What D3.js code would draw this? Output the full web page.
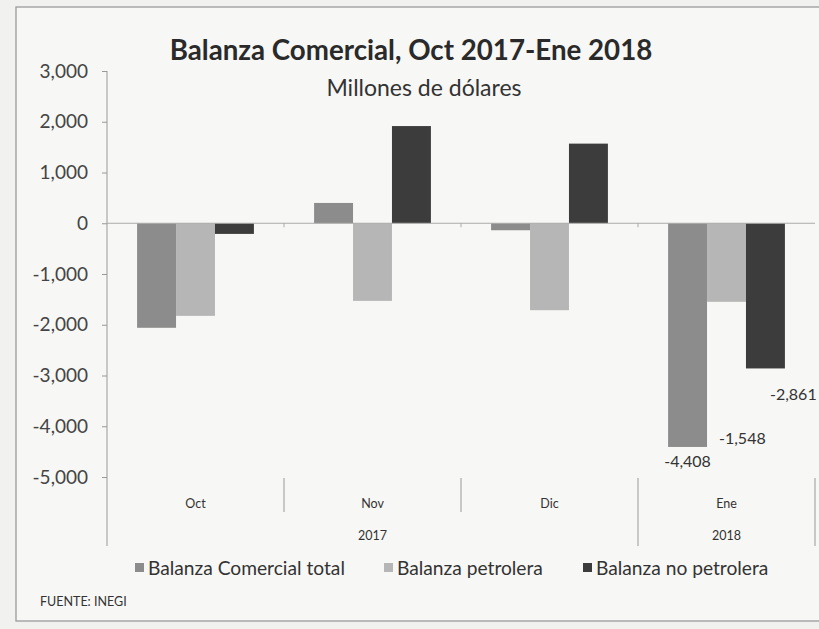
<!DOCTYPE html>
<html>
<head>
<meta charset="utf-8">
<script src="https://cdn.jsdelivr.net/npm/d3@7"></script>
<style>
  html, body { margin: 0; padding: 0; background: #f3f3f1; }
  svg { display: block; }
  text { font-family: Lato, "Open Sans", sans-serif; }
</style>
</head>
<body>
<svg id="chart" width="819" height="629"></svg>
<script>
const months = ["Oct", "Nov", "Dic", "Ene"];
const years = [{label: "2017", from: "Oct", to: "Dic"}, {label: "2018", from: "Ene", to: "Ene"}];
const seriesNames = ["Balanza Comercial total", "Balanza petrolera", "Balanza no petrolera"];
const totalValues = [-2060, 400, -138, -4408];
const petroleraValues = [-1825, -1530, -1713, -1548];
const noPetroleraValues = [-210, 1915, 1569, -2861];
const seriesColors = ["#8c8c8c", "#b6b6b6", "#3c3c3c"];
const yTicks = [3000, 2000, 1000, 0, -1000, -2000, -3000, -4000, -5000];
const labeledMonth = "Ene";

const allValues = [totalValues, petroleraValues, noPetroleraValues];
const data = months.map((m, i) => ({
  month: m,
  values: seriesNames.map((s, j) => ({series: s, value: allValues[j][i]}))
}));

const locale = d3.formatLocale({decimal: ".", thousands: ",", grouping: [3], currency: ["$", ""], minus: "-"});
const fmt = locale.format(",");

const svg = d3.select("#chart");

// frame
svg.append("rect").attr("x", 0).attr("y", 0).attr("width", 819).attr("height", 629).attr("fill", "#f1f1ef");
svg.append("rect").attr("x", 16).attr("y", 7).attr("width", 820).attr("height", 614)
  .attr("fill", "#f7f7f5").attr("stroke", "#9a9a9a").attr("stroke-width", 1.3);

const y = d3.scaleLinear().domain([-5000, 3000]).range([477, 71]);
const x0 = d3.scaleBand().domain(months).range([107, 815]).padding(0);
const x1 = d3.scaleBand().domain(seriesNames)
  .range([x0.bandwidth() * 0.17, x0.bandwidth() * 0.83]).padding(0);
const color = d3.scaleOrdinal().domain(seriesNames).range(seriesColors);

// title
svg.append("text").attr("x", 411).attr("y", 60).attr("text-anchor", "middle")
  .attr("font-size", 27.7).attr("font-weight", "bold").attr("fill", "#2a2a2a")
  .text("Balanza Comercial, Oct 2017-Ene 2018");
svg.append("text").attr("x", 424).attr("y", 96).attr("text-anchor", "middle")
  .attr("font-size", 23).attr("fill", "#333")
  .text("Millones de dólares");

// y axis
const yAxis = d3.axisLeft(y).tickValues(yTicks).tickFormat(fmt).tickSize(5).tickPadding(14);
const gy = svg.append("g").attr("transform", "translate(107,0)").call(yAxis);
gy.select(".domain").remove();
gy.selectAll(".tick line").attr("stroke", "#999");
gy.selectAll(".tick text").attr("font-size", 19).attr("fill", "#444")
  .attr("font-family", "Lato, 'Open Sans', sans-serif");
svg.append("line").attr("x1", 107).attr("x2", 107).attr("y1", y(3000)).attr("y2", 546)
  .attr("stroke", "#999").attr("stroke-width", 1);

// bars
const groups = svg.append("g").selectAll("g").data(data).join("g")
  .attr("transform", d => `translate(${x0(d.month)},0)`);
groups.selectAll("rect").data(d => d.values).join("rect")
  .attr("x", d => x1(d.series))
  .attr("width", x1.bandwidth())
  .attr("y", d => y(Math.max(0, d.value)))
  .attr("height", d => Math.abs(y(d.value) - y(0)))
  .attr("fill", d => color(d.series));

// zero line and its ticks
svg.append("line").attr("x1", 107).attr("x2", 815).attr("y1", y(0)).attr("y2", y(0))
  .attr("stroke", "#aaa").attr("stroke-width", 1);
svg.append("g").selectAll("line").data(months.slice(1)).join("line")
  .attr("x1", d => x0(d)).attr("x2", d => x0(d))
  .attr("y1", y(0)).attr("y2", y(0) + 4).attr("stroke", "#aaa");

// category axis (two levels)
svg.append("g").selectAll("text").data(months).join("text")
  .attr("x", d => x0(d) + x0.bandwidth() / 2).attr("y", 508)
  .attr("text-anchor", "middle").attr("font-size", 12.5).attr("fill", "#333")
  .text(d => d);
svg.append("g").selectAll("line").data(months.slice(1)).join("line")
  .attr("x1", d => x0(d)).attr("x2", d => x0(d))
  .attr("y1", 478).attr("y2", d => years.some(yr => yr.from === d) ? 546 : 512)
  .attr("stroke", "#999");
svg.append("line").attr("x1", 815).attr("x2", 815).attr("y1", 478).attr("y2", 546).attr("stroke", "#999");
svg.append("g").selectAll("text").data(years).join("text")
  .attr("x", d => (x0(d.from) + x0(d.to) + x0.bandwidth()) / 2).attr("y", 540)
  .attr("text-anchor", "middle").attr("font-size", 12.5).attr("fill", "#333")
  .text(d => d.label);

// data labels for Ene (placed as in the original Excel layout)
const ene = data.find(d => d.month === labeledMonth);
const totalBottom = y(ene.values[0].value);
const labelPos = [
  d => ({x: x0(labeledMonth) + x1(d.series) + x1.bandwidth() / 2, y: totalBottom + 20, anchor: "middle"}),
  d => ({x: x0(labeledMonth) + x1(d.series) + 12, y: totalBottom - 3, anchor: "start"}),
  d => ({x: x0(labeledMonth) + x1(d.series) + 24, y: y(d.value) + 32, anchor: "start"})
];
svg.append("g").selectAll("text").data(ene.values).join("text")
  .attr("x", (d, i) => labelPos[i](d).x)
  .attr("y", (d, i) => labelPos[i](d).y)
  .attr("text-anchor", (d, i) => labelPos[i](d).anchor)
  .attr("font-size", 16).attr("fill", "#333")
  .text(d => fmt(d.value));

// legend
const legendX = [135, 384, 583];
const legend = svg.append("g").selectAll("g").data(seriesNames).join("g")
  .attr("transform", (d, i) => `translate(${legendX[i]},568)`);
legend.append("rect").attr("x", 0).attr("y", -5).attr("width", 9).attr("height", 9)
  .attr("fill", d => color(d));
legend.append("text").attr("x", 13).attr("y", 6.5).attr("font-size", 19.2).attr("fill", "#333")
  .text(d => d);

svg.append("text").attr("x", 40).attr("y", 606).attr("font-size", 12.5).attr("fill", "#333")
  .text("FUENTE: INEGI");
</script>
</body>
</html>
